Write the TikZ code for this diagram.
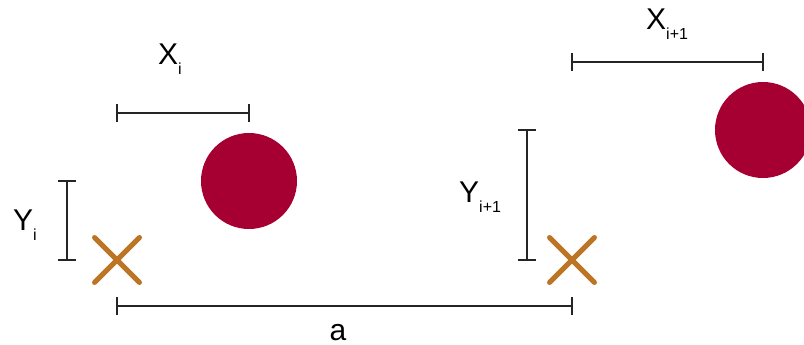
\documentclass[tikz,border=0pt]{standalone}
\usepackage{fontspec}
\setmainfont{Liberation Sans}
\usetikzlibrary{arrows.meta,calc}
\definecolor{dot}{HTML}{A60033}
\definecolor{crossc}{HTML}{BB7525}
\definecolor{barc}{HTML}{252525}
\tikzset{
  dotnode/.style={circle,fill=dot,draw=none,minimum size=96pt,inner sep=0pt},
  crossline/.style={draw=crossc,line width=5pt,line cap=round},
  dimbar/.style={draw=barc,line width=2.8pt,{Bar[width=18pt,line width=2.8pt]}-{Bar[width=18pt,line width=2.8pt]},shorten <=-1.4pt,shorten >=-1.4pt},
  lab/.style={inner sep=0pt,anchor=base west,font=\fontsize{30pt}{30pt}\selectfont},
}
\newcommand{\subtxt}[1]{\raisebox{-10pt}{\fontsize{16pt}{16pt}\selectfont #1}}
\begin{document}
\begin{tikzpicture}[x=1pt,y=-1pt]
\useasboundingbox (0,0) rectangle (804,345);
\clip (0,0) rectangle (804,345);
% circles
\node[dotnode] (c1) at (249,181) {};
\node[dotnode] (c2) at (763,130) {};
% crosses
\coordinate (x1) at (117,260);
\coordinate (x2) at (572,260);
\draw[crossline] ($(x1)+(-22.5,-22.5)$) -- ($(x1)+(22.5,22.5)$);
\draw[crossline] ($(x1)+(-22.5,22.5)$) -- ($(x1)+(22.5,-22.5)$);
\draw[crossline] ($(x2)+(-22.5,-22.5)$) -- ($(x2)+(22.5,22.5)$);
\draw[crossline] ($(x2)+(-22.5,22.5)$) -- ($(x2)+(22.5,-22.5)$);
% dimension bar end points
\coordinate (xi1) at (117,113);
\coordinate (xi2) at (249,113);
\coordinate (yi1) at (67,181);
\coordinate (yi2) at (67,260);
\coordinate (xj1) at (572,62);
\coordinate (xj2) at (763,62);
\coordinate (yj1) at (527,130);
\coordinate (yj2) at (527,260);
\coordinate (a1) at (117,306);
\coordinate (a2) at (572,306);
\draw[dimbar] (xi1) -- (xi2);
\draw[dimbar] (yi1) -- (yi2);
\draw[dimbar] (xj1) -- (xj2);
\draw[dimbar] (yj1) -- (yj2);
\draw[dimbar] (a1) -- (a2);
% labels
\node[lab] (lxi) at (158,65) {X\subtxt{i}};
\node[lab] (lyi) at (13,230) {Y\subtxt{i}};
\node[lab] (lxj) at (646,30) {X\subtxt{i+1}};
\node[lab] (lyj) at (459,202) {Y\subtxt{i+1}};
\node[lab,anchor=base] (la) at (338,340) {a};
\end{tikzpicture}
\end{document}
